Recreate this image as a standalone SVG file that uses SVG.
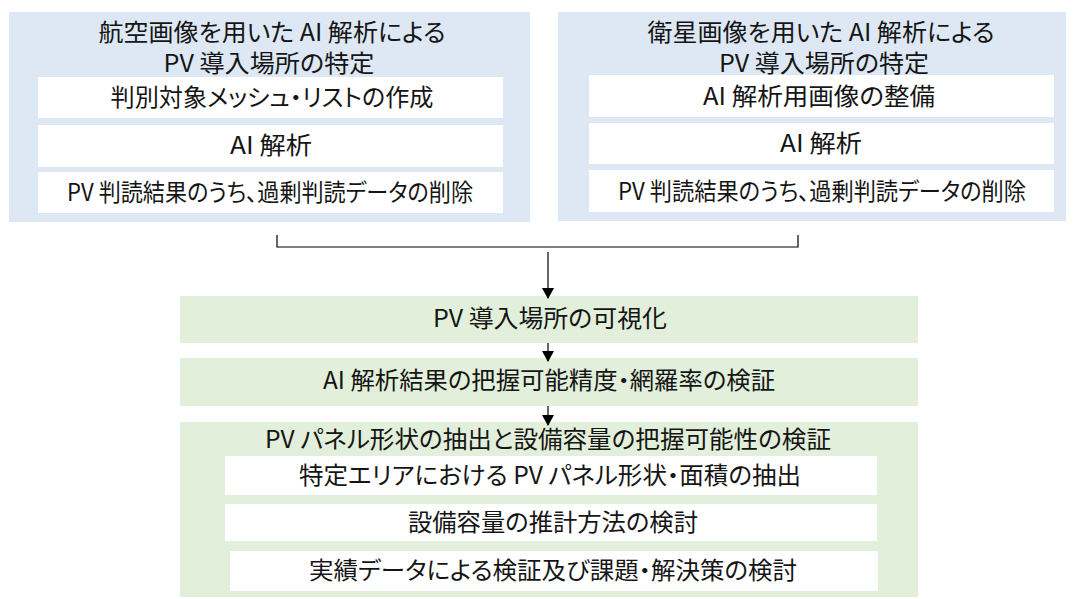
<svg xmlns="http://www.w3.org/2000/svg" width="1075" height="599" viewBox="0 0 1075 599">
<defs>
<marker id="ah" markerWidth="12" markerHeight="14" refX="10" refY="6" orient="auto" markerUnits="userSpaceOnUse">
<path d="M0,0 L11,6 L0,12 Z" fill="#000"/>
</marker>
<style>
.blue{fill:#dde8f4}
.green{fill:#e2efda}
.white{fill:#ffffff}
text{font-family:"Noto Sans CJK JP","Noto Sans",sans-serif;font-size:24px;fill:#151515;text-anchor:middle;font-feature-settings:"palt"}
.conn{stroke:#000;stroke-width:1.2;fill:none}
</style>
</defs>
<rect width="1075" height="599" fill="#ffffff"/>
<g id="aerial">
<rect class="blue" x="9" y="12" width="521" height="210"/>
<text x="272" y="41" textLength="347" lengthAdjust="spacingAndGlyphs">航空画像を用いた AI 解析による</text>
<text x="269" y="72" textLength="211" lengthAdjust="spacingAndGlyphs">PV 導入場所の特定</text>
<rect class="white" x="38" y="77" width="465" height="41"/>
<text x="272" y="106" textLength="323" lengthAdjust="spacingAndGlyphs">判別対象メッシュ・リストの作成</text>
<rect class="white" x="38" y="125" width="465" height="42"/>
<text x="271" y="154" textLength="82" lengthAdjust="spacingAndGlyphs">AI 解析</text>
<rect class="white" x="38" y="172" width="465" height="41"/>
<text x="270" y="201" textLength="406" lengthAdjust="spacingAndGlyphs">PV 判読結果のうち、過剰判読データの削除</text>
</g>
<g id="satellite">
<rect class="blue" x="558" y="12" width="508" height="209"/>
<text x="821" y="41" textLength="347" lengthAdjust="spacingAndGlyphs">衛星画像を用いた AI 解析による</text>
<text x="824" y="72" textLength="210" lengthAdjust="spacingAndGlyphs">PV 導入場所の特定</text>
<rect class="white" x="589" y="75" width="465" height="42"/>
<text x="819" y="105" textLength="232" lengthAdjust="spacingAndGlyphs">AI 解析用画像の整備</text>
<rect class="white" x="589" y="123" width="465" height="41"/>
<text x="821" y="152" textLength="82" lengthAdjust="spacingAndGlyphs">AI 解析</text>
<rect class="white" x="589" y="170" width="465" height="42"/>
<text x="822" y="200" textLength="408" lengthAdjust="spacingAndGlyphs">PV 判読結果のうち、過剰判読データの削除</text>
</g>
<g id="visualize">
<rect class="green" x="180" y="296" width="738" height="47"/>
<text x="550" y="327" textLength="234" lengthAdjust="spacingAndGlyphs">PV 導入場所の可視化</text>
</g>
<g id="verify">
<rect class="green" x="180" y="358" width="738" height="48"/>
<text x="549" y="389" textLength="452" lengthAdjust="spacingAndGlyphs">AI 解析結果の把握可能精度・網羅率の検証</text>
</g>
<g id="panel">
<rect class="green" x="180" y="422" width="738" height="175"/>
<text x="548" y="448" textLength="566" lengthAdjust="spacingAndGlyphs">PV パネル形状の抽出と設備容量の把握可能性の検証</text>
<rect class="white" x="225" y="456" width="652" height="39"/>
<text x="550" y="484" textLength="502" lengthAdjust="spacingAndGlyphs">特定エリアにおける PV パネル形状・面積の抽出</text>
<rect class="white" x="225" y="504" width="652" height="37"/>
<text x="553" y="531" textLength="290" lengthAdjust="spacingAndGlyphs">設備容量の推計方法の検討</text>
<rect class="white" x="230" y="551" width="648" height="40"/>
<text x="553" y="579" textLength="488" lengthAdjust="spacingAndGlyphs">実績データによる検証及び課題・解決策の検討</text>
</g>
<g id="connectors">
<path class="conn" d="M277,235 V247 H798 V235"/>
<line class="conn" x1="548" y1="252" x2="548" y2="298" marker-end="url(#ah)"/>
<line class="conn" x1="548" y1="343" x2="548" y2="361" marker-end="url(#ah)"/>
<line class="conn" x1="548" y1="406" x2="548" y2="425" marker-end="url(#ah)"/>
</g>
</svg>
